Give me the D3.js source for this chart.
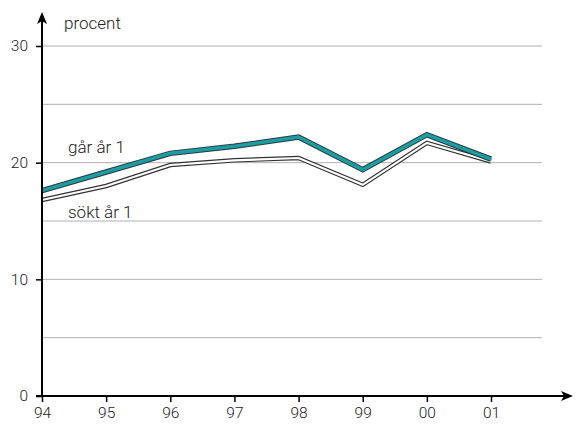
<!DOCTYPE html>
<html><head><meta charset="utf-8">
<script src="https://cdn.jsdelivr.net/npm/d3@7/dist/d3.min.js"></script>
<style>
html,body{margin:0;padding:0;background:#fff;}
text{font-family:Roboto,"Liberation Sans",sans-serif;font-weight:300;fill:#222;}
</style></head>
<body><svg id="c" width="576" height="432"></svg>
<script>
const years = ["94","95","96","97","98","99","00","01"];
const garAr1 = [17.6, 19.2, 20.8, 21.4, 22.2, 19.4, 22.4, 20.3];
const soktAr1 = [16.8, 18.0, 19.8, 20.2, 20.4, 18.1, 21.7, 20.1];
const yTicks = [0, 10, 20, 30];
const gridVals = [5, 10, 15, 20, 25, 30];
const seriesLabels = ["går år 1", "sökt år 1"];

const svg = d3.select("#c");
const x = d3.scalePoint().domain(years).range([42, 491]);
const y = d3.scaleLinear().domain([0, 30]).range([396, 46]);

// gridlines
svg.append("g").selectAll("line").data(gridVals).join("line")
  .attr("x1", 42).attr("x2", 542)
  .attr("y1", d => y(d)).attr("y2", d => y(d))
  .attr("stroke", "#b0b0b0").attr("stroke-width", 1);

// lines
const line = d3.line().x((d, i) => x(years[i])).y(d => y(d));
function dbl(data, outer, inner, wo, wi) {
  svg.append("path").datum(data).attr("d", line).attr("fill", "none")
    .attr("stroke", outer).attr("stroke-width", wo).attr("stroke-linejoin", "miter");
  svg.append("path").datum(data).attr("d", line).attr("fill", "none")
    .attr("stroke", inner).attr("stroke-width", wi).attr("stroke-linejoin", "miter");
}
dbl(soktAr1, "#333", "#fff", 4.5, 2.2);
dbl(garAr1, "#2a3a3c", "#1c9ca3", 5.5, 3.5);

const fam = "Roboto,'Liberation Sans',sans-serif";
// y axis
const yAxis = d3.axisLeft(y).tickValues(yTicks).tickSize(6).tickPadding(8);
const gy = svg.append("g").attr("transform", "translate(42,0)").call(yAxis);
gy.select(".domain").remove();
gy.selectAll(".tick line").attr("stroke", "#000").attr("stroke-width", 1.5);
gy.selectAll(".tick text").attr("font-size", 15.5).style("font-family", fam).attr("font-weight", 300).attr("fill", "#222");

// x axis
const xAxis = d3.axisBottom(x).tickSize(6).tickPadding(5);
const gx = svg.append("g").attr("transform", "translate(0,396)").call(xAxis);
gx.select(".domain").remove();
gx.selectAll(".tick line").attr("stroke", "#000").attr("stroke-width", 1.5);
gx.selectAll(".tick text").attr("font-size", 15.5).style("font-family", fam).attr("font-weight", 300).attr("fill", "#222");

// axis lines with arrows
svg.append("line").attr("x1", 42).attr("x2", 42).attr("y1", 397).attr("y2", 20)
  .attr("stroke", "#000").attr("stroke-width", 2);
svg.append("path").attr("d", "M42,12 L37,24 L42,21 L47,24 Z").attr("fill", "#000");
svg.append("line").attr("x1", 36).attr("x2", 565).attr("y1", 396).attr("y2", 396)
  .attr("stroke", "#000").attr("stroke-width", 2);
svg.append("path").attr("d", "M573,396 L561,391 L564,396 L561,401 Z").attr("fill", "#000");

// labels
svg.append("text").attr("x", 64).attr("y", 29).attr("font-size", 17).text("procent");
svg.append("text").attr("x", 68).attr("y", 153).attr("font-size", 17).text(seriesLabels[0]);
svg.append("text").attr("x", 68).attr("y", 218).attr("font-size", 17).text(seriesLabels[1]);
</script></body></html>
